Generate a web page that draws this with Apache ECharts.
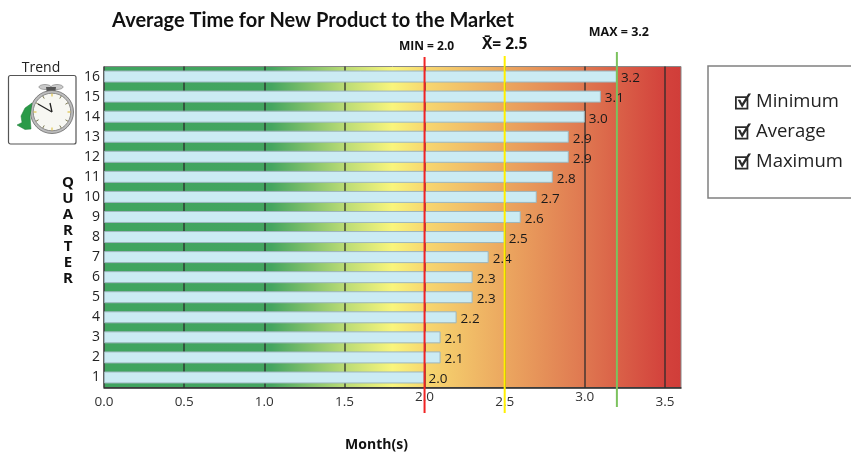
<!DOCTYPE html>
<html><head><meta charset="utf-8">
<style>html,body{margin:0;padding:0;background:#fff;overflow:hidden}#c{width:851px;height:452px}</style>
<script src="https://cdn.jsdelivr.net/npm/echarts@6/dist/echarts.min.js"></script>
</head><body><div id="c"></div>
<script>
const quarters = ['1','2','3','4','5','6','7','8','9','10','11','12','13','14','15','16'];
const months = [2.0,2.1,2.1,2.2,2.3,2.3,2.4,2.5,2.6,2.7,2.8,2.9,2.9,3.0,3.1,3.2];
const minValue = 2.0, avgValue = 2.5, maxValue = 3.2;
const legendNames = ['Minimum','Average','Maximum'];

const FONT = '"Open Sans", sans-serif';
const chart = echarts.init(document.getElementById('c'));
const checkIcon = 'path://M0 3H15V18H0Z M2 5V16H13V5Z M3 7L6 7L8 11L15 0L18 0L8 16Z';

function refLine(name, value, color, up, down, text, textDy, textDx, textSize){
  return {
    type:'custom', name, coordinateSystem:'cartesian2d', clip:false, z:10, silent:true,
    encode:{x:0,y:1}, data:[[value,0]],
    renderItem(params, api){
      const p = api.coord([api.value(0), 0]);
      const cs = params.coordSys;
      return {type:'group', children:[
        {type:'line', shape:{x1:p[0],y1:cs.y-up,x2:p[0],y2:cs.y+cs.height+down},
         style:{stroke:color,lineWidth:2}},
        {type:'text', x:p[0]+textDx, y:cs.y+textDy,
         style:{text, font:`bold ${textSize}px ${FONT}`, fill:'#111', align:'center', verticalAlign:'middle'}}
      ]};
    }
  };
}

const ticks = [];
for (let i=0;i<12;i++){
  const a = i*Math.PI/6;
  ticks.push({type:'line', shape:{x1:52+Math.sin(a)*15.5,y1:112-Math.cos(a)*15.5,x2:52+Math.sin(a)*18.5,y2:112-Math.cos(a)*18.5},
    style:{stroke:i%3===0?'#d9b92c':'#7d7a55',lineWidth:1}, z:23});
}

chart.setOption({
  animation:false,
  backgroundColor:'#fff',
  title:{text:'Average Time for New Product to the Market', left:308, top:6, textAlign:'center',
    textStyle:{fontFamily:'Lato',fontWeight:'bold',fontSize:20,color:'#111'}},
  legend:{
    orient:'vertical', left:708, top:66, padding:[26,30,27,27], itemGap:11,
    itemWidth:16, itemHeight:16, borderColor:'#808080', borderWidth:1.5, backgroundColor:'#fff', selectedMode:false,
    textStyle:{fontFamily:FONT,fontSize:18.5,color:'#222'},
    data:legendNames.map(n=>({name:n,icon:checkIcon,itemStyle:{color:'#2a2a2a',borderWidth:0}}))
  },
  grid:{left:104,top:66.5,width:577,height:321,outerBoundsMode:'none',show:true,borderColor:'#888',borderWidth:1,
    backgroundColor:new echarts.graphic.LinearGradient(0,0,1,0,[
      {offset:0,color:'#3fa45f'},{offset:0.29,color:'#44a560'},{offset:0.416,color:'#b9db75'},
      {offset:0.50,color:'#f9f57c'},{offset:0.555,color:'#f7d870'},{offset:0.70,color:'#eba55f'},
      {offset:0.82,color:'#e07c52'},{offset:0.97,color:'#d3423c'},{offset:1,color:'#d03d39'}])},
  xAxis:{type:'value',min:0,max:3.6,interval:0.5,
    name:'Month(s)',nameLocation:'middle',nameGap:51,
    nameTextStyle:{fontFamily:FONT,fontWeight:'bold',fontSize:14,color:'#111',padding:[0,32,0,0]},
    axisLine:{show:true,lineStyle:{color:'#222',width:1.5}},axisTick:{show:false},
    splitLine:{show:true,showMaxLine:false,lineStyle:{color:'#2a2a2a',width:1.5,opacity:.85}},
    axisLabel:{margin:3,showMaxLabel:false,fontFamily:FONT,fontSize:13.5,color:'#333',
      formatter:v=>{const s=v.toFixed(1);return (v===2||v===3)?`{hi|${s}}`:`{lo|${s}}`;},
      rich:{hi:{fontFamily:FONT,fontSize:13.5,color:'#333',padding:[0,0,0,0]},
            lo:{fontFamily:FONT,fontSize:13.5,color:'#333',padding:[5,0,0,0]}}}},
  yAxis:{type:'category',data:quarters,boundaryGap:true,
    axisLine:{show:false},axisTick:{show:false},splitLine:{show:false},
    axisLabel:{margin:4,fontFamily:FONT,fontSize:14,color:'#222',interval:0}},
  series:[
    {type:'bar',name:'Months',data:months,barWidth:12,z:3,
     itemStyle:{color:'#cbebf3',borderColor:'#9db6bd',borderWidth:1},
     label:{show:true,position:'right',distance:4,offset:[0,2],fontFamily:FONT,fontSize:13.5,color:'#1a1a1a',
       formatter:p=>p.value.toFixed(1)}},
    refLine('Minimum',minValue,'#f02424',9.5,25.5,'MIN = 2.0',-19.5,2,12),
    refLine('Average',avgValue,'#fff000',10.5,25.5,'X̄= 2.5',-21.5,0,15.5),
    refLine('Maximum',maxValue,'#7cc25e',14.5,19.5,'MAX = 3.2',-34.5,2,12.5)
  ],
  graphic:[
    {type:'text',x:68,y:231,z:20,style:{text:'Q\nU\nA\nR\nT\nE\nR',font:`bold 15px ${FONT}`,lineHeight:16,fill:'#111',align:'center',verticalAlign:'middle'}},
    {type:'text',x:41,y:68,z:20,style:{text:'Trend',font:`14px ${FONT}`,fill:'#222',align:'center',verticalAlign:'middle'}},
    {type:'rect',shape:{x:8.5,y:75.5,width:67.5,height:68.5,r:2},style:{fill:'#fff',stroke:'#555',lineWidth:1.2},z:20},
    {type:'polygon',shape:{points:[[46,87],[56,87],[55,94],[47,94]]},style:{fill:'#555'},z:21},
    {type:'ellipse',shape:{cx:45,cy:87,rx:6,ry:2.5},style:{fill:'#c9c9c9',stroke:'#777',lineWidth:.6},z:20},
    {type:'ellipse',shape:{cx:57,cy:87,rx:6,ry:2.5},style:{fill:'#c9c9c9',stroke:'#777',lineWidth:.6},z:20},
    {type:'circle',shape:{cx:52,cy:112,r:21.5},style:{fill:'#bdbdbd',stroke:'#666',lineWidth:.8},z:21},
    {type:'circle',shape:{cx:52,cy:112,r:18.8},style:{fill:'#f7f7f2',stroke:'#777',lineWidth:.8},z:22},
    ...ticks,
    {type:'polygon',shape:{points:[[32,103],[30,116],[31,129],[25,129.5],[17,125],[22,122.5],[21,116],[25,108]]},
      style:{fill:'#2a9a48',stroke:'#1d7a36',lineWidth:.5},z:24},
    {type:'line',shape:{x1:52,y1:112,x2:38,y2:104},style:{stroke:'#222',lineWidth:1.3},z:25},
    {type:'line',shape:{x1:52,y1:112,x2:50,y2:103},style:{stroke:'#222',lineWidth:1.3},z:25}
  ]
});
</script></body></html>
